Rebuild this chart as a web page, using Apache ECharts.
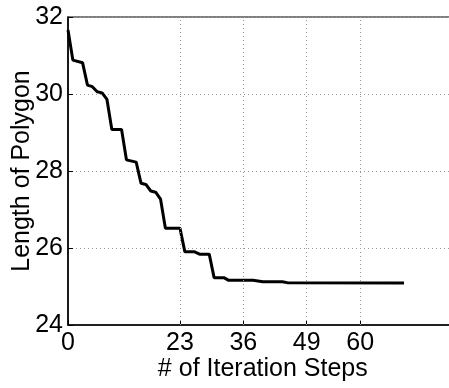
<!DOCTYPE html>
<html>
<head>
<meta charset="utf-8">
<script src="https://cdn.jsdelivr.net/npm/echarts@6/dist/echarts.min.js"></script>
<style>
html,body{margin:0;padding:0;background:#fff;}
#c{width:449px;height:388px;}
</style>
</head>
<body>
<div id="c"></div>
<script>
const steps = [0,1,3,4,5,6,7,8,9,11,12,14,15,16,17,18,19,20,23,24,26,27,29,30,32,33,38,40,44,45,69];
const lengths = [31.66,30.88,30.81,30.23,30.19,30.06,30.03,29.86,29.08,29.08,28.29,28.23,27.68,27.65,27.48,27.45,27.27,26.51,26.51,25.90,25.90,25.84,25.84,25.23,25.23,25.16,25.16,25.125,25.125,25.10,25.09];
const xTicks = [0,23,36,49,60];
const xGridTicks = [23,36,49,60];
const yTicks = [24,26,28,30,32];

const font = 'Liberation Sans, Arial, Helvetica, sans-serif';
const chart = echarts.init(document.getElementById('c'), null, {renderer:'canvas'});
chart.setOption({
  animation:false,
  backgroundColor:'#fff',
  grid:{left:68, top:17, width:389.6, height:308, containLabel:false, outerBoundsMode:'none',
        show:true, borderColor:'#000', borderWidth:1.2, backgroundColor:'transparent'},
  xAxis:{
    type:'value', min:0, max:80,
    name:'# of Iteration Steps', nameLocation:'middle', nameGap:32, nameMoveOverlap:false,
    nameTextStyle:{fontSize:25, color:'#000', fontFamily:font},
    axisLine:{show:true, onZero:false, lineStyle:{color:'#000', width:1.5}},
    axisTick:{show:true, inside:true, length:5, customValues:xTicks, lineStyle:{color:'#000'}},
    axisLabel:{customValues:xTicks, fontSize:25, color:'#000', fontFamily:font, margin:6},
    splitLine:{show:false}
  },
  yAxis:{
    type:'value', min:24, max:32, interval:2,
    name:'Length of Polygon', nameLocation:'middle', nameGap:33, nameMoveOverlap:false,
    nameTextStyle:{fontSize:25, color:'#000', fontFamily:font},
    axisLine:{show:true, lineStyle:{color:'#000', width:1.5}},
    axisTick:{show:true, inside:true, length:5, lineStyle:{color:'#000'}},
    axisLabel:{fontSize:25, color:'#000', fontFamily:font, margin:5},
    splitLine:{show:true, lineStyle:{color:'#999', type:[1,3], width:1}}
  },
  series:[{
    type:'line',
    data: steps.map((s,i)=>[s,lengths[i]]),
    showSymbol:false,
    lineStyle:{color:'#000', width:3},
    markLine:{
      silent:true, symbol:'none', label:{show:false},
      lineStyle:{color:'#999', type:[1,3], width:1},
      data: xGridTicks.map(v=>({xAxis:v}))
    }
  }]
});
</script>
</body>
</html>
